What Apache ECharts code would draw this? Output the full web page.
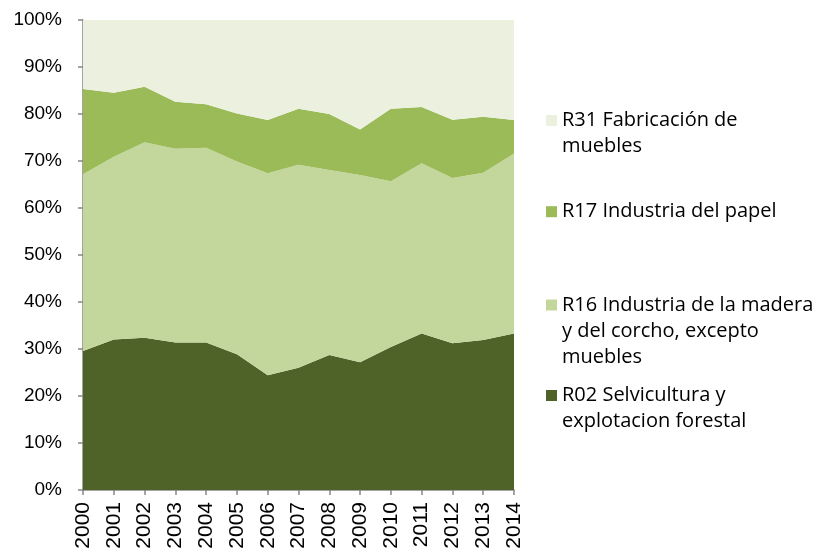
<!DOCTYPE html>
<html><head><meta charset="utf-8">
<script src="https://cdn.jsdelivr.net/npm/echarts@6/dist/echarts.min.js"></script>
<style>html,body{margin:0;padding:0;background:#fff}#c{width:816px;height:557px}</style>
</head><body><div id="c"></div>
<script>
const years = ['2000','2001','2002','2003','2004','2005','2006','2007','2008','2009','2010','2011','2012','2013','2014'];
const r02 = [29.6,32.0,32.4,31.4,31.4,28.9,24.4,26.0,28.7,27.2,30.4,33.3,31.2,31.9,33.3];
const r16 = [37.6,38.9,41.6,41.2,41.4,41.0,43.0,43.2,39.4,39.8,35.3,36.2,35.2,35.6,38.3];
const r17 = [18.1,13.6,11.8,10.0,9.3,10.2,11.3,11.9,11.9,9.7,15.4,12.0,12.4,11.9,7.1];
const r31 = [14.7,15.5,14.2,17.4,17.9,19.9,21.3,18.9,20.0,23.3,18.9,18.5,21.2,20.6,21.3];
const names = ['R02 Selvicultura y\nexplotacion forestal','R16 Industria de la madera\ny del corcho, excepto\nmuebles','R17 Industria del papel','R31 Fabricación de\nmuebles'];
const colors = ['#4F6228','#C3D69B','#9BBB59','#EBF1DE'];
const FONT = 'Liberation Sans';
const LH = 26;
const chart = echarts.init(document.getElementById('c'));
function mkSeries(name, data, color){
  return {name, type:'line', stack:'t', data, symbol:'none', smooth:false,
    lineStyle:{width:0}, areaStyle:{color, opacity:1}, itemStyle:{color}};
}
// prepend blank lines so the icon sits beside the first line of a wrapped name
function mkLegend(name, firstLineY){
  const n = name.split('\n').length;
  const total = (2*n-1)*LH;
  return {data:[name], left:546, top:firstLineY - total/2, orient:'vertical', itemWidth:11, itemHeight:11, itemGap:0,
    padding:0, icon:'rect', selectedMode:false,
    formatter: nm => '\n'.repeat(n-1) + nm,
    textStyle:{fontFamily:'Open Sans', fontSize:20, color:'#000', lineHeight:LH}};
}
chart.setOption({
  animation:false,
  grid:{left:83, right:302, top:20, bottom:67},
  legend:[mkLegend(names[3],120.5), mkLegend(names[2],211.7), mkLegend(names[1],305), mkLegend(names[0],395.5)],
  xAxis:{type:'category', data:years, boundaryGap:false,
    axisLine:{lineStyle:{color:'#868686', width:1.5}},
    axisTick:{show:true, length:5, lineStyle:{color:'#868686', width:1.5}},
    axisLabel:{rotate:90, fontFamily:FONT, fontSize:21, color:'#000', margin:12, interval:0}},
  yAxis:{type:'value', min:0, max:100, interval:10,
    axisLine:{show:true, lineStyle:{color:'#868686', width:1.5}},
    axisTick:{show:true, length:5, lineStyle:{color:'#868686', width:1.5}},
    axisLabel:{formatter:'{value}%', fontFamily:FONT, fontSize:19, color:'#000', margin:21},
    splitLine:{show:true, lineStyle:{color:['transparent','transparent','transparent','transparent','transparent','transparent','transparent','transparent','transparent','transparent','#BFBFBF'], width:1}}},
  series:[mkSeries(names[0], r02, colors[0]), mkSeries(names[1], r16, colors[1]), mkSeries(names[2], r17, colors[2]), mkSeries(names[3], r31, colors[3])]
});
</script></body></html>
